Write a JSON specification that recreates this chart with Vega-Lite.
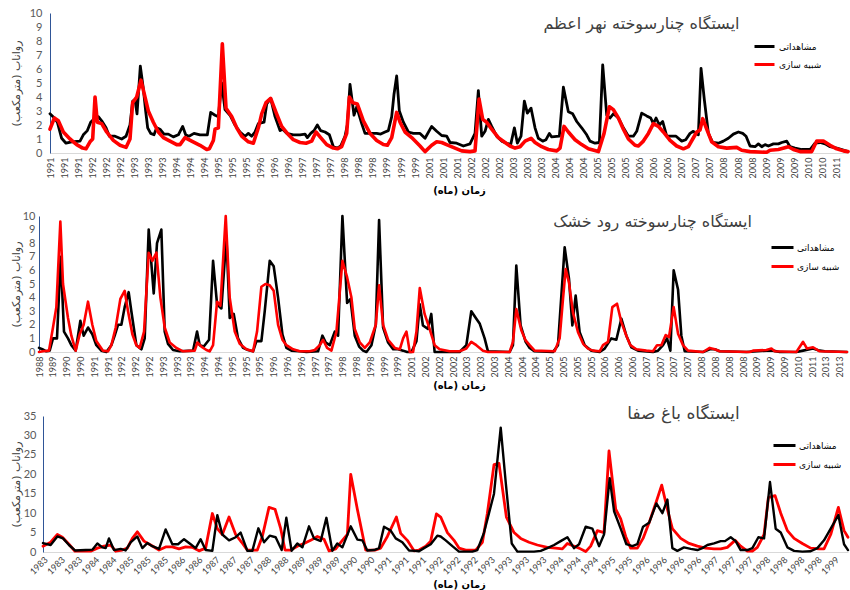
{
"$schema": "https://vega.github.io/schema/vega-lite/v6.json",
"background": "white",
"padding": {"left": 10, "top": 7, "right": 0, "bottom": 0},
"config": {"view": {"stroke": null}, "font": "DejaVu Sans"},
"datasets": {
"p1o": [{"t":0,"v":2.8},{"t":0.93,"v":2.5},{"t":1.57,"v":2.2},{"t":2.49,"v":1.05},{"t":3.42,"v":0.7},{"t":4.63,"v":0.8},{"t":6.41,"v":0.85},{"t":7.12,"v":1.3},{"t":7.98,"v":1.6},{"t":8.69,"v":2.2},{"t":9.62,"v":2.5},{"t":10.33,"v":2.6},{"t":11.04,"v":2.3},{"t":11.97,"v":1.8},{"t":12.68,"v":1.2},{"t":13.89,"v":1.2},{"t":15.31,"v":1.0},{"t":16.24,"v":1.2},{"t":17.09,"v":2.0},{"t":17.66,"v":3.7},{"t":18.16,"v":3.8},{"t":18.59,"v":2.8},{"t":19.3,"v":6.2},{"t":19.94,"v":4.6},{"t":20.44,"v":3.0},{"t":20.87,"v":1.8},{"t":21.51,"v":1.4},{"t":22.22,"v":1.3},{"t":22.79,"v":1.8},{"t":23.5,"v":1.7},{"t":24.36,"v":1.35},{"t":25.28,"v":1.35},{"t":26.35,"v":1.15},{"t":27.42,"v":1.3},{"t":28.35,"v":1.9},{"t":28.99,"v":1.3},{"t":29.7,"v":1.2},{"t":30.77,"v":1.4},{"t":32.05,"v":1.3},{"t":33.62,"v":1.3},{"t":34.33,"v":2.9},{"t":35.26,"v":2.7},{"t":35.97,"v":2.6},{"t":36.68,"v":5.0},{"t":37.39,"v":3.1},{"t":38.46,"v":2.7},{"t":39.53,"v":2.0},{"t":40.6,"v":1.5},{"t":41.67,"v":1.2},{"t":42.38,"v":1.4},{"t":43.09,"v":1.2},{"t":43.8,"v":1.5},{"t":44.52,"v":2.1},{"t":45.73,"v":2.2},{"t":46.3,"v":3.5},{"t":47.15,"v":3.9},{"t":48.08,"v":2.6},{"t":49.15,"v":1.6},{"t":49.72,"v":1.7},{"t":50.57,"v":1.4},{"t":51.99,"v":1.3},{"t":53.42,"v":1.3},{"t":54.49,"v":1.35},{"t":54.99,"v":1.1},{"t":55.7,"v":1.4},{"t":56.41,"v":1.6},{"t":57.12,"v":2.0},{"t":57.83,"v":1.6},{"t":58.76,"v":1.5},{"t":59.69,"v":1.3},{"t":60.54,"v":0.45},{"t":61.4,"v":0.35},{"t":62.11,"v":0.5},{"t":63.03,"v":1.2},{"t":63.53,"v":2.0},{"t":64.1,"v":4.9},{"t":64.96,"v":2.7},{"t":65.53,"v":3.3},{"t":66.6,"v":2.1},{"t":67.31,"v":1.4},{"t":68.38,"v":1.4},{"t":69.8,"v":1.4},{"t":70.66,"v":1.35},{"t":71.58,"v":1.5},{"t":72.29,"v":1.6},{"t":73.01,"v":2.6},{"t":73.5,"v":4.2},{"t":74.07,"v":5.5},{"t":74.64,"v":3.0},{"t":75.5,"v":2.2},{"t":76.57,"v":1.5},{"t":77.64,"v":1.4},{"t":79.06,"v":1.4},{"t":80.13,"v":1.05},{"t":81.55,"v":1.9},{"t":82.62,"v":1.55},{"t":83.69,"v":1.25},{"t":84.76,"v":1.2},{"t":85.47,"v":0.75},{"t":86.89,"v":0.7},{"t":88.32,"v":0.5},{"t":89.74,"v":0.65},{"t":90.81,"v":1.4},{"t":91.52,"v":4.45},{"t":92.24,"v":1.2},{"t":92.95,"v":1.55},{"t":93.66,"v":2.4},{"t":94.37,"v":1.9},{"t":95.44,"v":1.2},{"t":96.51,"v":0.85},{"t":97.58,"v":0.7},{"t":98.43,"v":0.6},{"t":99.22,"v":1.8},{"t":99.86,"v":0.7},{"t":100.64,"v":1.2},{"t":101.35,"v":3.7},{"t":101.99,"v":2.85},{"t":102.78,"v":3.2},{"t":103.63,"v":1.8},{"t":104.34,"v":1.05},{"t":105.27,"v":0.85},{"t":105.98,"v":0.95},{"t":106.7,"v":1.4},{"t":107.19,"v":1.15},{"t":108.83,"v":1.2},{"t":109.69,"v":4.7},{"t":110.75,"v":2.95},{"t":111.68,"v":2.8},{"t":112.54,"v":2.25},{"t":113.6,"v":1.8},{"t":114.67,"v":1.3},{"t":115.38,"v":0.85},{"t":116.45,"v":0.7},{"t":117.38,"v":0.75},{"t":118.09,"v":6.3},{"t":118.95,"v":2.7},{"t":119.66,"v":2.5},{"t":120.37,"v":2.8},{"t":121.44,"v":2.5},{"t":122.51,"v":1.8},{"t":123.58,"v":1.2},{"t":124.64,"v":1.2},{"t":125.36,"v":1.55},{"t":126.42,"v":2.85},{"t":127.49,"v":2.65},{"t":128.35,"v":2.5},{"t":128.92,"v":2.1},{"t":129.49,"v":2.5},{"t":130.2,"v":2.0},{"t":130.91,"v":2.25},{"t":131.77,"v":1.2},{"t":133.76,"v":1.2},{"t":134.97,"v":0.85},{"t":135.83,"v":0.95},{"t":136.75,"v":1.4},{"t":137.46,"v":1.55},{"t":138.53,"v":1.3},{"t":139.1,"v":6.05},{"t":139.81,"v":3.8},{"t":140.67,"v":1.4},{"t":141.6,"v":0.75},{"t":142.81,"v":0.7},{"t":143.87,"v":0.85},{"t":144.94,"v":1.05},{"t":146.01,"v":1.35},{"t":147.08,"v":1.5},{"t":148.01,"v":1.4},{"t":148.72,"v":1.2},{"t":149.57,"v":0.5},{"t":150.64,"v":0.45},{"t":151.35,"v":0.65},{"t":152.07,"v":0.45},{"t":152.78,"v":0.6},{"t":153.49,"v":0.5},{"t":154.56,"v":0.65},{"t":155.63,"v":0.65},{"t":156.34,"v":0.75},{"t":157.41,"v":0.85},{"t":158.12,"v":0.45},{"t":159.19,"v":0.35},{"t":160.61,"v":0.25},{"t":162.39,"v":0.25},{"t":163.46,"v":0.7},{"t":164.53,"v":0.75},{"t":165.6,"v":0.65},{"t":166.67,"v":0.45},{"t":168.09,"v":0.35},{"t":169.52,"v":0.2},{"t":170.5,"v":0.1}],
"p1s": [{"t":0,"v":1.7},{"t":0.93,"v":2.5},{"t":1.78,"v":2.3},{"t":2.85,"v":1.5},{"t":4.27,"v":1.0},{"t":5.7,"v":0.6},{"t":6.98,"v":0.35},{"t":7.69,"v":0.3},{"t":8.55,"v":0.8},{"t":9.12,"v":1.0},{"t":9.62,"v":4.0},{"t":10.11,"v":2.2},{"t":11.04,"v":2.1},{"t":12.11,"v":1.5},{"t":13.53,"v":0.9},{"t":14.96,"v":0.55},{"t":16.24,"v":0.4},{"t":17.09,"v":1.0},{"t":17.66,"v":3.6},{"t":18.52,"v":4.0},{"t":19.44,"v":5.2},{"t":20.09,"v":4.3},{"t":21.01,"v":3.0},{"t":22.08,"v":2.2},{"t":23.15,"v":1.5},{"t":24.22,"v":1.1},{"t":25.64,"v":0.85},{"t":27.07,"v":0.6},{"t":27.78,"v":0.6},{"t":28.85,"v":1.1},{"t":30.27,"v":0.85},{"t":32.05,"v":0.55},{"t":33.48,"v":0.25},{"t":34.05,"v":0.3},{"t":34.9,"v":0.9},{"t":35.26,"v":1.7},{"t":35.97,"v":1.8},{"t":36.82,"v":7.8},{"t":37.61,"v":3.2},{"t":38.82,"v":2.6},{"t":39.89,"v":1.8},{"t":40.95,"v":1.2},{"t":42.38,"v":0.8},{"t":43.45,"v":0.7},{"t":44.52,"v":1.8},{"t":45.23,"v":2.8},{"t":46.15,"v":3.6},{"t":47.15,"v":3.9},{"t":48.29,"v":2.9},{"t":49.5,"v":1.9},{"t":50.71,"v":1.4},{"t":51.99,"v":0.95},{"t":53.42,"v":0.75},{"t":54.7,"v":0.7},{"t":55.91,"v":0.85},{"t":56.84,"v":1.5},{"t":57.83,"v":1.1},{"t":59.12,"v":0.6},{"t":60.54,"v":0.35},{"t":61.4,"v":0.3},{"t":62.32,"v":0.45},{"t":63.39,"v":1.4},{"t":63.96,"v":4.0},{"t":64.67,"v":3.6},{"t":65.67,"v":3.5},{"t":66.95,"v":2.3},{"t":68.38,"v":1.4},{"t":69.8,"v":0.9},{"t":71.23,"v":0.6},{"t":72.08,"v":0.55},{"t":73.01,"v":1.1},{"t":74.07,"v":2.9},{"t":74.79,"v":2.2},{"t":75.85,"v":1.5},{"t":77.28,"v":1.1},{"t":79.06,"v":0.5},{"t":80.13,"v":0.1},{"t":81.55,"v":0.55},{"t":82.62,"v":0.8},{"t":83.69,"v":0.75},{"t":85.11,"v":0.55},{"t":86.54,"v":0.35},{"t":87.96,"v":0.15},{"t":89.74,"v":0.1},{"t":90.81,"v":0.15},{"t":91.67,"v":3.85},{"t":92.45,"v":2.4},{"t":93.3,"v":2.2},{"t":94.37,"v":1.7},{"t":95.8,"v":1.1},{"t":97.22,"v":0.75},{"t":98.29,"v":0.5},{"t":99.36,"v":0.35},{"t":100.43,"v":0.45},{"t":101.5,"v":0.85},{"t":102.78,"v":1.05},{"t":103.63,"v":0.75},{"t":105.06,"v":0.45},{"t":106.48,"v":0.25},{"t":108.26,"v":0.15},{"t":108.97,"v":0.35},{"t":109.83,"v":1.9},{"t":110.75,"v":1.5},{"t":112.18,"v":0.95},{"t":113.6,"v":0.6},{"t":115.03,"v":0.3},{"t":117.17,"v":0.1},{"t":118.38,"v":1.4},{"t":119.52,"v":3.3},{"t":120.37,"v":3.1},{"t":121.44,"v":2.5},{"t":122.51,"v":1.7},{"t":123.58,"v":1.0},{"t":125.0,"v":0.55},{"t":125.71,"v":0.5},{"t":126.78,"v":0.85},{"t":127.85,"v":1.4},{"t":128.92,"v":2.1},{"t":129.99,"v":1.9},{"t":131.05,"v":1.5},{"t":132.48,"v":0.9},{"t":133.9,"v":0.5},{"t":135.33,"v":0.3},{"t":136.4,"v":0.45},{"t":137.32,"v":1.0},{"t":138.18,"v":1.5},{"t":138.89,"v":1.65},{"t":139.46,"v":2.45},{"t":140.31,"v":1.7},{"t":141.38,"v":0.8},{"t":142.81,"v":0.45},{"t":144.59,"v":0.35},{"t":146.72,"v":0.4},{"t":147.79,"v":0.2},{"t":149.57,"v":0.1},{"t":153.13,"v":0.05},{"t":153.85,"v":0.2},{"t":155.63,"v":0.25},{"t":157.76,"v":0.45},{"t":158.83,"v":0.25},{"t":160.26,"v":0.1},{"t":162.75,"v":0.1},{"t":163.82,"v":0.85},{"t":165.24,"v":0.85},{"t":166.67,"v":0.55},{"t":168.09,"v":0.3},{"t":169.52,"v":0.15},{"t":170.5,"v":0.1}],
"p2o": [{"t":0,"v":0.3},{"t":0.72,"v":0.2},{"t":1.59,"v":0.05},{"t":2.32,"v":0.1},{"t":3.04,"v":1.0},{"t":3.91,"v":1.0},{"t":4.71,"v":7.0},{"t":5.43,"v":1.5},{"t":6.3,"v":1.0},{"t":7.03,"v":0.5},{"t":7.97,"v":0.1},{"t":8.99,"v":2.3},{"t":9.71,"v":1.2},{"t":10.65,"v":1.8},{"t":11.59,"v":1.3},{"t":12.46,"v":0.5},{"t":13.55,"v":0.1},{"t":14.64,"v":0.0},{"t":15.72,"v":0.5},{"t":16.45,"v":1.2},{"t":17.17,"v":2.0},{"t":17.9,"v":2.0},{"t":18.62,"v":3.3},{"t":19.49,"v":4.4},{"t":20.07,"v":3.0},{"t":21.16,"v":0.5},{"t":22.25,"v":0.2},{"t":22.97,"v":1.0},{"t":23.84,"v":9.0},{"t":24.93,"v":4.3},{"t":25.65,"v":8.0},{"t":26.59,"v":9.0},{"t":27.32,"v":1.5},{"t":28.04,"v":0.6},{"t":29.13,"v":0.15},{"t":30.58,"v":0.05},{"t":33.48,"v":0.1},{"t":34.35,"v":1.5},{"t":34.93,"v":0.5},{"t":35.8,"v":0.4},{"t":36.96,"v":0.9},{"t":37.83,"v":6.7},{"t":38.7,"v":3.5},{"t":39.64,"v":3.2},{"t":40.72,"v":8.5},{"t":41.45,"v":2.5},{"t":42.32,"v":2.8},{"t":43.26,"v":1.0},{"t":44.35,"v":0.3},{"t":45.43,"v":0.15},{"t":46.52,"v":0.05},{"t":47.25,"v":0.8},{"t":48.33,"v":0.8},{"t":49.06,"v":3.0},{"t":50.14,"v":6.7},{"t":51.01,"v":6.3},{"t":51.96,"v":4.0},{"t":52.9,"v":1.3},{"t":53.77,"v":0.3},{"t":54.86,"v":0.1},{"t":56.67,"v":0.05},{"t":58.12,"v":0.0},{"t":60.65,"v":0.05},{"t":61.59,"v":1.2},{"t":62.32,"v":0.7},{"t":63.19,"v":0.5},{"t":64.28,"v":1.5},{"t":65.0,"v":1.2},{"t":65.94,"v":10.0},{"t":66.96,"v":3.6},{"t":67.68,"v":3.9},{"t":68.62,"v":1.2},{"t":69.57,"v":0.4},{"t":70.43,"v":0.1},{"t":71.16,"v":0.0},{"t":72.25,"v":0.5},{"t":73.19,"v":2.0},{"t":73.91,"v":9.7},{"t":74.78,"v":1.8},{"t":75.87,"v":0.7},{"t":76.96,"v":0.2},{"t":78.04,"v":0.2},{"t":79.13,"v":0.1},{"t":80.0,"v":0.0},{"t":80.94,"v":0.0},{"t":82.03,"v":0.8},{"t":82.75,"v":3.5},{"t":83.44,"v":1.95},{"t":84.53,"v":1.7},{"t":85.25,"v":2.8},{"t":85.98,"v":0.0},{"t":91.41,"v":0.0},{"t":92.87,"v":0.5},{"t":93.95,"v":3.0},{"t":95.04,"v":2.45},{"t":95.76,"v":2.1},{"t":96.85,"v":1.0},{"t":97.57,"v":0.05},{"t":102.28,"v":0.0},{"t":103.0,"v":0.5},{"t":103.73,"v":6.35},{"t":104.67,"v":1.95},{"t":105.76,"v":0.75},{"t":106.63,"v":0.3},{"t":107.72,"v":0.05},{"t":111.7,"v":0.0},{"t":112.79,"v":0.5},{"t":114.24,"v":7.7},{"t":115.18,"v":5.4},{"t":115.91,"v":1.95},{"t":116.63,"v":4.15},{"t":117.5,"v":1.45},{"t":118.59,"v":0.5},{"t":120.04,"v":0.1},{"t":121.85,"v":0.0},{"t":122.93,"v":0.25},{"t":124.38,"v":1.0},{"t":125.47,"v":0.9},{"t":126.56,"v":2.45},{"t":127.65,"v":1.2},{"t":128.73,"v":0.35},{"t":130.18,"v":0.1},{"t":133.44,"v":0.0},{"t":134.53,"v":0.1},{"t":135.62,"v":0.5},{"t":136.49,"v":1.0},{"t":137.21,"v":0.1},{"t":137.93,"v":6.0},{"t":138.88,"v":4.6},{"t":139.6,"v":1.2},{"t":140.33,"v":0.05},{"t":144.31,"v":0.0},{"t":145.76,"v":0.2},{"t":146.85,"v":0.2},{"t":147.93,"v":0.05},{"t":153.73,"v":0.0},{"t":158.08,"v":0.1},{"t":159.53,"v":0.1},{"t":160.98,"v":0.0},{"t":164.6,"v":0.0},{"t":166.05,"v":0.1},{"t":168.22,"v":0.25},{"t":169.67,"v":0.1},{"t":170.76,"v":0.05},{"t":175.6,"v":0.0}],
"p2s": [{"t":0,"v":0.0},{"t":0.87,"v":0.05},{"t":2.17,"v":0.1},{"t":3.04,"v":1.8},{"t":3.77,"v":3.3},{"t":4.64,"v":9.6},{"t":5.22,"v":5.0},{"t":6.3,"v":2.5},{"t":7.03,"v":1.2},{"t":7.97,"v":0.1},{"t":8.84,"v":1.3},{"t":9.71,"v":2.0},{"t":10.65,"v":3.7},{"t":11.59,"v":2.0},{"t":12.46,"v":0.8},{"t":13.91,"v":0.1},{"t":15.0,"v":0.05},{"t":15.72,"v":0.5},{"t":16.67,"v":1.8},{"t":17.68,"v":3.9},{"t":18.62,"v":4.5},{"t":19.35,"v":3.0},{"t":20.29,"v":1.3},{"t":21.16,"v":0.5},{"t":21.88,"v":0.3},{"t":22.83,"v":1.5},{"t":23.84,"v":7.3},{"t":24.64,"v":6.7},{"t":25.51,"v":7.3},{"t":26.38,"v":4.0},{"t":27.32,"v":1.8},{"t":28.41,"v":0.7},{"t":29.86,"v":0.3},{"t":31.3,"v":0.05},{"t":33.84,"v":0.1},{"t":34.42,"v":0.7},{"t":35.29,"v":0.4},{"t":36.38,"v":0.15},{"t":37.1,"v":0.05},{"t":37.83,"v":0.5},{"t":38.7,"v":3.7},{"t":39.42,"v":3.4},{"t":40.58,"v":10.0},{"t":41.45,"v":4.0},{"t":42.54,"v":1.5},{"t":43.62,"v":0.6},{"t":45.07,"v":0.2},{"t":46.52,"v":0.05},{"t":47.39,"v":1.5},{"t":48.33,"v":4.8},{"t":49.2,"v":5.0},{"t":50.14,"v":4.9},{"t":51.01,"v":4.5},{"t":51.96,"v":2.0},{"t":52.9,"v":0.9},{"t":53.77,"v":0.5},{"t":55.22,"v":0.2},{"t":56.67,"v":0.05},{"t":58.84,"v":0.05},{"t":59.93,"v":0.15},{"t":61.01,"v":0.5},{"t":61.74,"v":0.9},{"t":62.61,"v":0.3},{"t":63.55,"v":0.1},{"t":64.64,"v":1.5},{"t":65.94,"v":6.7},{"t":66.96,"v":5.5},{"t":67.9,"v":4.0},{"t":68.62,"v":1.7},{"t":69.71,"v":0.7},{"t":70.8,"v":0.3},{"t":71.88,"v":0.7},{"t":73.19,"v":2.0},{"t":73.91,"v":4.9},{"t":74.78,"v":2.0},{"t":75.87,"v":0.9},{"t":77.32,"v":0.3},{"t":78.41,"v":0.2},{"t":79.13,"v":1.0},{"t":79.86,"v":1.5},{"t":80.58,"v":0.0},{"t":81.3,"v":0.0},{"t":82.03,"v":1.5},{"t":82.75,"v":4.7},{"t":83.8,"v":2.8},{"t":84.89,"v":1.7},{"t":85.98,"v":0.5},{"t":87.07,"v":0.2},{"t":89.24,"v":0.05},{"t":91.41,"v":0.05},{"t":92.87,"v":0.25},{"t":93.95,"v":0.75},{"t":95.04,"v":0.5},{"t":96.49,"v":0.1},{"t":97.57,"v":0.0},{"t":102.28,"v":0.0},{"t":103.0,"v":0.75},{"t":103.73,"v":3.15},{"t":104.82,"v":1.6},{"t":105.76,"v":0.85},{"t":106.63,"v":0.5},{"t":107.72,"v":0.1},{"t":112.07,"v":0.05},{"t":113.15,"v":1.0},{"t":113.88,"v":3.9},{"t":114.46,"v":6.1},{"t":115.18,"v":5.1},{"t":116.05,"v":2.9},{"t":117.14,"v":1.45},{"t":118.26,"v":0.6},{"t":119.31,"v":0.25},{"t":120.4,"v":0.1},{"t":121.85,"v":0.05},{"t":122.57,"v":0.5},{"t":123.66,"v":0.75},{"t":124.6,"v":3.3},{"t":125.62,"v":3.55},{"t":126.56,"v":2.2},{"t":127.65,"v":1.2},{"t":128.51,"v":0.5},{"t":129.82,"v":0.2},{"t":132.0,"v":0.1},{"t":133.44,"v":0.05},{"t":134.31,"v":0.5},{"t":135.25,"v":0.5},{"t":136.2,"v":1.25},{"t":136.92,"v":1.1},{"t":137.93,"v":3.3},{"t":138.88,"v":1.35},{"t":139.96,"v":0.5},{"t":141.05,"v":0.1},{"t":144.31,"v":0.0},{"t":145.76,"v":0.3},{"t":146.85,"v":0.2},{"t":147.93,"v":0.05},{"t":154.46,"v":0.0},{"t":155.18,"v":0.1},{"t":158.08,"v":0.15},{"t":159.17,"v":0.25},{"t":159.89,"v":0.05},{"t":164.6,"v":0.0},{"t":166.05,"v":0.75},{"t":166.92,"v":0.25},{"t":168.22,"v":0.35},{"t":169.67,"v":0.05},{"t":175.6,"v":0.0}],
"p3o": [{"t":0,"v":2.3},{"t":0.89,"v":1.8},{"t":1.67,"v":4.0},{"t":2.33,"v":3.5},{"t":3.02,"v":1.8},{"t":3.72,"v":0.4},{"t":4.96,"v":0.5},{"t":5.74,"v":0.6},{"t":6.32,"v":2.2},{"t":6.9,"v":1.2},{"t":7.29,"v":1.0},{"t":7.67,"v":3.5},{"t":8.26,"v":0.5},{"t":9.03,"v":0.8},{"t":9.61,"v":0.4},{"t":10.19,"v":2.5},{"t":10.97,"v":4.0},{"t":11.55,"v":1.0},{"t":12.13,"v":2.3},{"t":12.71,"v":1.5},{"t":13.49,"v":0.8},{"t":14.26,"v":5.8},{"t":15.04,"v":2.0},{"t":15.7,"v":2.0},{"t":16.4,"v":3.3},{"t":17.17,"v":2.0},{"t":17.75,"v":1.0},{"t":18.33,"v":3.3},{"t":18.91,"v":0.5},{"t":19.69,"v":0.3},{"t":20.27,"v":9.5},{"t":20.85,"v":4.5},{"t":21.63,"v":3.0},{"t":22.4,"v":3.8},{"t":22.98,"v":5.0},{"t":23.76,"v":0.3},{"t":24.34,"v":0.3},{"t":25.04,"v":6.1},{"t":25.7,"v":2.5},{"t":26.36,"v":4.2},{"t":27.05,"v":3.8},{"t":27.75,"v":0.5},{"t":28.29,"v":8.8},{"t":28.91,"v":0.3},{"t":29.57,"v":2.2},{"t":30.16,"v":1.2},{"t":30.93,"v":6.6},{"t":31.51,"v":3.5},{"t":32.29,"v":2.8},{"t":32.95,"v":8.8},{"t":33.64,"v":0.3},{"t":34.22,"v":2.2},{"t":34.81,"v":1.2},{"t":35.78,"v":6.6},{"t":36.55,"v":3.2},{"t":37.13,"v":3.0},{"t":37.71,"v":0.4},{"t":38.49,"v":0.5},{"t":39.07,"v":1.0},{"t":39.65,"v":6.5},{"t":40.43,"v":5.5},{"t":41.01,"v":3.5},{"t":41.78,"v":2.5},{"t":42.56,"v":0.4},{"t":43.33,"v":0.3},{"t":43.72,"v":0.2},{"t":44.3,"v":1.0},{"t":45.08,"v":2.0},{"t":45.85,"v":4.2},{"t":46.24,"v":4.0},{"t":46.82,"v":3.0},{"t":47.6,"v":1.5},{"t":48.37,"v":0.1},{"t":49.92,"v":0.1},{"t":50.5,"v":0.5},{"t":51.28,"v":5.0},{"t":51.86,"v":10.0},{"t":52.44,"v":15.0},{"t":53.22,"v":32.0},{"t":53.8,"v":18.0},{"t":54.5,"v":2.2},{"t":55.16,"v":0.1},{"t":57.09,"v":0.1},{"t":57.87,"v":0.3},{"t":58.64,"v":1.0},{"t":59.42,"v":1.8},{"t":60.19,"v":2.8},{"t":60.97,"v":3.8},{"t":61.74,"v":1.0},{"t":62.33,"v":2.0},{"t":63.1,"v":6.5},{"t":63.88,"v":6.0},{"t":64.65,"v":1.5},{"t":65.23,"v":4.5},{"t":65.89,"v":19.0},{"t":66.4,"v":10.5},{"t":67.17,"v":6.0},{"t":67.83,"v":2.0},{"t":68.53,"v":1.5},{"t":69.11,"v":2.0},{"t":69.77,"v":6.5},{"t":70.47,"v":7.5},{"t":71.32,"v":12.5},{"t":72.02,"v":10.0},{"t":72.6,"v":13.5},{"t":73.18,"v":1.0},{"t":73.76,"v":0.3},{"t":74.53,"v":1.2},{"t":75.31,"v":0.8},{"t":76.09,"v":0.5},{"t":76.67,"v":1.0},{"t":77.25,"v":1.8},{"t":78.02,"v":2.2},{"t":78.8,"v":2.8},{"t":79.3,"v":2.8},{"t":79.96,"v":3.8},{"t":80.54,"v":2.8},{"t":81.12,"v":0.5},{"t":81.9,"v":0.5},{"t":82.48,"v":1.0},{"t":83.18,"v":3.8},{"t":83.84,"v":3.5},{"t":84.53,"v":18.0},{"t":85.19,"v":6.0},{"t":85.78,"v":5.0},{"t":86.55,"v":1.2},{"t":87.33,"v":0.3},{"t":88.29,"v":0.1},{"t":89.26,"v":0.2},{"t":90.04,"v":1.0},{"t":90.81,"v":3.0},{"t":91.59,"v":6.0},{"t":92.48,"v":9.5},{"t":93.14,"v":2.0},{"t":93.6,"v":0.5}],
"p3s": [{"t":0,"v":1.5},{"t":0.89,"v":2.5},{"t":1.67,"v":4.5},{"t":2.25,"v":3.8},{"t":3.02,"v":2.0},{"t":3.72,"v":0.2},{"t":5.54,"v":0.2},{"t":6.32,"v":1.0},{"t":7.09,"v":1.5},{"t":7.87,"v":1.8},{"t":8.45,"v":0.2},{"t":9.22,"v":0.5},{"t":9.81,"v":1.0},{"t":10.39,"v":3.5},{"t":10.97,"v":5.2},{"t":11.74,"v":2.8},{"t":12.52,"v":1.8},{"t":13.49,"v":0.5},{"t":14.26,"v":1.3},{"t":15.04,"v":1.3},{"t":15.81,"v":0.8},{"t":16.59,"v":1.3},{"t":17.36,"v":1.2},{"t":18.14,"v":0.3},{"t":18.91,"v":1.0},{"t":19.69,"v":9.9},{"t":20.27,"v":6.0},{"t":20.85,"v":4.5},{"t":21.63,"v":9.0},{"t":22.4,"v":4.5},{"t":23.1,"v":2.5},{"t":23.76,"v":0.5},{"t":24.92,"v":0.5},{"t":25.5,"v":4.0},{"t":26.28,"v":11.5},{"t":26.98,"v":11.0},{"t":27.64,"v":6.0},{"t":28.14,"v":0.5},{"t":28.8,"v":0.5},{"t":29.57,"v":1.5},{"t":30.35,"v":2.2},{"t":31.12,"v":3.0},{"t":31.9,"v":4.0},{"t":32.67,"v":3.3},{"t":33.26,"v":0.3},{"t":34.03,"v":0.8},{"t":34.81,"v":3.0},{"t":35.39,"v":4.5},{"t":35.78,"v":20.0},{"t":36.55,"v":11.0},{"t":37.52,"v":0.5},{"t":38.68,"v":0.5},{"t":39.26,"v":1.0},{"t":40.04,"v":4.0},{"t":41.09,"v":9.0},{"t":41.59,"v":4.8},{"t":42.36,"v":3.0},{"t":43.14,"v":0.3},{"t":43.72,"v":0.5},{"t":44.5,"v":1.5},{"t":45.08,"v":2.8},{"t":45.74,"v":9.8},{"t":46.24,"v":9.0},{"t":47.02,"v":5.0},{"t":47.79,"v":3.0},{"t":48.37,"v":1.0},{"t":49.15,"v":0.5},{"t":50.31,"v":0.5},{"t":51.09,"v":2.5},{"t":51.67,"v":10.0},{"t":52.44,"v":22.5},{"t":53.02,"v":22.8},{"t":53.88,"v":9.0},{"t":54.77,"v":5.0},{"t":55.54,"v":3.5},{"t":56.51,"v":2.5},{"t":57.48,"v":1.8},{"t":58.64,"v":1.2},{"t":59.61,"v":1.0},{"t":60.39,"v":0.8},{"t":60.97,"v":2.2},{"t":61.74,"v":1.5},{"t":62.33,"v":1.0},{"t":63.1,"v":0.1},{"t":63.68,"v":1.5},{"t":64.46,"v":5.5},{"t":65.23,"v":5.0},{"t":65.81,"v":26.0},{"t":66.59,"v":11.0},{"t":67.17,"v":8.5},{"t":67.75,"v":4.0},{"t":68.33,"v":1.0},{"t":69.11,"v":1.0},{"t":69.77,"v":3.5},{"t":70.47,"v":7.5},{"t":71.24,"v":12.5},{"t":71.94,"v":17.2},{"t":72.6,"v":11.0},{"t":73.18,"v":6.0},{"t":74.15,"v":3.5},{"t":75.12,"v":2.2},{"t":76.09,"v":1.5},{"t":77.05,"v":1.0},{"t":78.02,"v":0.8},{"t":78.8,"v":0.8},{"t":79.57,"v":1.2},{"t":80.47,"v":3.0},{"t":81.12,"v":1.5},{"t":81.9,"v":0.2},{"t":82.48,"v":0.2},{"t":83.06,"v":1.2},{"t":83.84,"v":4.5},{"t":84.34,"v":14.0},{"t":85.12,"v":14.5},{"t":85.78,"v":10.0},{"t":86.55,"v":5.5},{"t":87.33,"v":3.5},{"t":88.29,"v":2.2},{"t":89.26,"v":1.0},{"t":90.23,"v":0.8},{"t":90.81,"v":0.8},{"t":91.59,"v":4.5},{"t":92.48,"v":11.5},{"t":93.14,"v":5.5},{"t":93.6,"v":3.8}]
},
"columns": 1,
"spacing": 14,
"resolve": {"scale": {"color": "independent", "x": "independent", "y": "independent"}, "legend": {"color": "independent"}, "axis": {"x": "independent", "y": "independent"}},
"concat": [
{
"width": 811, "height": 140,
"title": {"text": "ایستگاه چنارسوخته نهر اعظم", "orient": "top", "anchor": "middle", "frame": "group", "offset": 0, "dx": 197, "dy": 25, "fontSize": 16, "font": "DejaVu Sans", "fontWeight": "normal", "color": "#404040"},
"layer": [
{"data": {"name": "p1o"}, "mark": {"type": "line", "strokeWidth": 2.8, "strokeJoin": "round", "strokeCap": "round"},
 "encoding": {
  "x": {"field": "t", "type": "quantitative", "scale": {"domain": [0, 170.5], "range": [11, 809], "nice": false, "zero": false},
   "axis": {"values": [0,3,6,9,12,15,18,21,24,27,30,33,36,39,42,45,48,51,54,57,60,63,66,69,72,75,78,81,84,87,90,93,96,99,102,105,108,111,114,117,120,123,126,129,132,135,138,141,144,147,150,153,156,159,162,165,168], "tickCount": 1000,
    "labelExpr": "['1991','1991','1991','1992','1992','1992','1993','1993','1993','1994','1994','1994','1995','1995','1995','1996','1996','1996','1997','1997','1997','1998','1998','1998','1999','1999','1999','2001','2001','2001','2002','2002','2002','2003','2003','2003','2004','2004','2004','2005','2005','2005','2006','2006','2006','2007','2007','2007','2008','2008','2008','2009','2009','2009','2010','2010','2011'][round(datum.value/3)]",
    "labelAngle": -90, "labelFontSize": 9, "labelFont": "Lato", "labelColor": "#404040", "labelPadding": 4, "labelOverlap": false, "labelFlush": false, "labelBound": false,
    "ticks": false, "grid": false, "domainColor": "#D9D9D9", "domainWidth": 1,
    "title": "زمان (ماه)\u200f", "titleFont": "DejaVu Sans", "titleFontSize": 10, "titleFontWeight": "bold", "titleColor": "#000000", "titlePadding": 8, "titleX": 420}},
  "y": {"field": "v", "type": "quantitative", "scale": {"domain": [0, 10], "nice": false},
   "axis": {"values": [0,1,2,3,4,5,6,7,8,9,10], "format": "d", "tickCount": 1000, "labelOverlap": false, "labelFontSize": 11, "labelFont": "Lato", "labelColor": "#595959", "labelPadding": 8, "labelFlush": false, "ticks": false, "grid": false, "domainColor": "#2F5597", "minExtent": 27, "maxExtent": 27, "offset": -11,
    "title": "رواناب (مترمکعب)\u200f", "titleFont": "DejaVu Sans", "titleFontSize": 11, "titleFontWeight": "normal", "titleColor": "#404040", "titlePadding": 2}},
  "color": {"datum": "مشاهداتی", "type": "nominal", "scale": {"domain": ["مشاهداتی", "شبیه سازی"], "range": ["#000000", "#FF0000"]},
   "legend": {"orient": "none", "legendX": 714, "legendY": 22, "direction": "vertical", "title": null, "symbolType": "stroke", "symbolSize": 400, "symbolStrokeWidth": 3, "labelFontSize": 9, "labelFont": "DejaVu Sans", "labelColor": "#000000", "labelOffset": 3, "rowPadding": 0, "padding": 0}}
 }},
{"data": {"name": "p1s"}, "mark": {"type": "line", "strokeWidth": 3.6, "strokeJoin": "round", "strokeCap": "round"},
 "encoding": {"x": {"field": "t", "type": "quantitative"}, "y": {"field": "v", "type": "quantitative"}, "color": {"datum": "شبیه سازی", "type": "nominal"}}}
]
},
{
"width": 811, "height": 136,
"title": {"text": "ایستگاه چنارسوخته رود خشک", "orient": "top", "anchor": "middle", "frame": "group", "offset": 0, "dx": 208, "dy": 20, "fontSize": 16, "font": "DejaVu Sans", "fontWeight": "normal", "color": "#404040"},
"layer": [
{"data": {"name": "p2o"}, "mark": {"type": "line", "strokeWidth": 2.6, "strokeJoin": "round", "strokeCap": "round"},
 "encoding": {
  "x": {"field": "t", "type": "quantitative", "scale": {"domain": [0, 175.6], "range": [0, 808], "nice": false, "zero": false},
   "axis": {"values": [0,3,6,9,12,15,18,21,24,27,30,33,36,39,42,45,48,51,54,57,60,63,66,69,72,75,78,81,84,87,90,93,96,99,102,105,108,111,114,117,120,123,126,129,132,135,138,141,144,147,150,153,156,159,162,165,168,171,174], "tickCount": 1000,
    "labelExpr": "['1988','1989','1990','1990','1991','1991','1992','1992','1992','1993','1993','1993','1994','1994','1995','1995','1995','1996','1996','1996','1997','1997','1998','1998','1998','1999','1999','2001','2002','2002','2002','2003','2003','2003','2004','2004','2004','2005','2005','2005','2005','2006','2006','2006','2007','2007','2007','2007','2008','2008','2008','2008','2009','2009','2009','2010','2011','2013','2013'][round(datum.value/3)]",
    "labelAngle": -90, "labelFontSize": 9, "labelFont": "Lato", "labelColor": "#404040", "labelPadding": 4, "labelOverlap": false, "labelFlush": false, "labelBound": false,
    "ticks": false, "grid": false, "domainColor": "#D9D9D9", "domainWidth": 1,
    "title": "زمان (ماه)\u200f", "titleFont": "DejaVu Sans", "titleFontSize": 10, "titleFontWeight": "bold", "titleColor": "#000000", "titlePadding": 4, "titleX": 420}},
  "y": {"field": "v", "type": "quantitative", "scale": {"domain": [0, 10], "nice": false},
   "axis": {"values": [0,1,2,3,4,5,6,7,8,9,10], "format": "d", "tickCount": 1000, "labelOverlap": false, "labelFontSize": 11, "labelFont": "Lato", "labelColor": "#595959", "labelPadding": 4, "labelFlush": false, "ticks": false, "grid": false, "domainColor": "#2F5597", "minExtent": 16, "maxExtent": 16,
    "title": "رواناب (مترمکعب)\u200f", "titleFont": "DejaVu Sans", "titleFontSize": 11, "titleFontWeight": "normal", "titleColor": "#404040", "titlePadding": 2}},
  "color": {"datum": "مشاهداتی", "type": "nominal", "scale": {"domain": ["مشاهداتی", "شبیه سازی"], "range": ["#000000", "#FF0000"]},
   "legend": {"orient": "none", "legendX": 731, "legendY": 19, "direction": "vertical", "title": null, "symbolType": "stroke", "symbolSize": 484, "symbolStrokeWidth": 3, "labelFontSize": 9, "labelFont": "DejaVu Sans", "labelColor": "#000000", "labelOffset": 2, "rowPadding": 0, "padding": 0}}
 }},
{"data": {"name": "p2s"}, "mark": {"type": "line", "strokeWidth": 2.6, "strokeJoin": "round", "strokeCap": "round"},
 "encoding": {"x": {"field": "t", "type": "quantitative"}, "y": {"field": "v", "type": "quantitative"}, "color": {"datum": "شبیه سازی", "type": "nominal"}}}
]
},
{
"width": 811, "height": 136,
"title": {"text": "ایستگاه باغ صفا", "orient": "top", "anchor": "middle", "frame": "group", "offset": 0, "dx": 239, "dy": 13, "fontSize": 17, "font": "DejaVu Sans", "fontWeight": "normal", "color": "#404040"},
"layer": [
{"data": {"name": "p3s"}, "mark": {"type": "line", "strokeWidth": 2.8, "strokeJoin": "round", "strokeCap": "round"},
 "encoding": {
  "x": {"field": "t", "type": "quantitative", "scale": {"domain": [0, 93.6], "range": [4, 809], "nice": false, "zero": false},
   "axis": {"values": [0,2,4,6,8,10,12,14,16,18,20,22,24,26,28,30,32,34,36,38,40,42,44,46,48,50,52,54,56,58,60,62,64,66,68,70,72,74,76,78,80,82,84,86,88,90,92], "tickCount": 1000,
    "labelExpr": "['1983','1983','1983','1984','1984','1985','1985','1985','1986','1986','1987','1987','1987','1988','1988','1989','1989','1989','1990','1990','1991','1991','1991','1992','1992','1992','1993','1993','1993','1993','1994','1994','1994','1995','1995','1996','1996','1996','1996','1997','1997','1997','1998','1998','1998','1998','1999'][round(datum.value/2)]",
    "labelAngle": -45, "labelFontSize": 9, "labelFont": "Lato", "labelColor": "#404040", "labelPadding": 3, "labelOverlap": false, "labelFlush": false, "labelBound": false,
    "ticks": false, "grid": false, "domainColor": "#D9D9D9", "domainWidth": 1,
    "title": "زمان (ماه)\u200f", "titleFont": "DejaVu Sans", "titleFontSize": 10, "titleFontWeight": "bold", "titleColor": "#000000", "titlePadding": 3, "titleX": 420}},
  "y": {"field": "v", "type": "quantitative", "scale": {"domain": [0, 35], "nice": false},
   "axis": {"values": [0,5,10,15,20,25,30,35], "format": "d", "tickCount": 1000, "labelOverlap": false, "labelFontSize": 11, "labelFont": "Lato", "labelColor": "#595959", "labelPadding": 7, "labelFlush": false, "ticks": false, "grid": false, "domainColor": "#2F5597", "minExtent": 20, "maxExtent": 20, "offset": -4,
    "title": "رواناب (مترمکعب)\u200f", "titleFont": "DejaVu Sans", "titleFontSize": 11, "titleFontWeight": "normal", "titleColor": "#404040", "titlePadding": 2}},
  "color": {"datum": "شبیه سازی", "type": "nominal", "scale": {"domain": ["مشاهداتی", "شبیه سازی"], "range": ["#000000", "#FF0000"]},
   "legend": {"orient": "none", "legendX": 733, "legendY": 17, "direction": "vertical", "title": null, "symbolType": "stroke", "symbolSize": 484, "symbolStrokeWidth": 3, "labelFontSize": 9, "labelFont": "DejaVu Sans", "labelColor": "#000000", "labelOffset": 2, "rowPadding": 0, "padding": 0}}
 }},
{"data": {"name": "p3o"}, "mark": {"type": "line", "strokeWidth": 2.4, "strokeJoin": "round", "strokeCap": "round"},
 "encoding": {"x": {"field": "t", "type": "quantitative"}, "y": {"field": "v", "type": "quantitative"}, "color": {"datum": "مشاهداتی", "type": "nominal"}}}
]
}
]
}
